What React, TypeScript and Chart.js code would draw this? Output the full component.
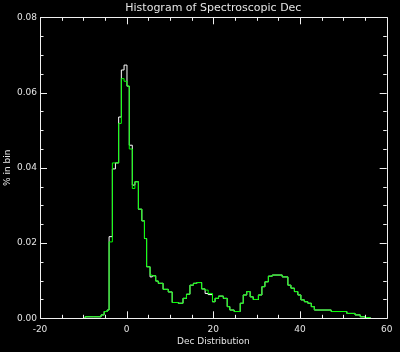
import React, { useEffect, useRef } from "react";
import { Chart, registerables } from "chart.js";
Chart.register(...registerables);

// Histogram bin edges (Dec, degrees) shared by both series
const binEdges = [
  -9.6, -7.7, -5.9, -5.2, -4.5, -4.06, -3.3, -2.6, -1.85, -1.23, -0.6, 0.07, 0.6, 1.3, 1.9, 2.7, 3.5,
  4.1, 4.6, 5.4, 5.9, 6.7, 7.3, 8.4, 9.6, 10.5, 11.9, 13.0, 13.8, 14.6, 15.4, 16.2, 17.3, 18.1, 18.8,
  19.8, 20.4, 21.2, 22.3, 23.2, 23.8, 24.8, 26.2, 26.9, 27.7, 28.5, 29.2, 30.4, 31.2, 31.9, 32.7, 33.6,
  35.9, 37.2, 37.9, 38.7, 39.5, 40.2, 41.0, 41.8, 42.6, 43.3, 47.2, 50.8, 52.7, 53.9, 55.0, 56.2,
];

// Fraction in bin, white histogram
const whitePct = [
  0.0004, 0.0004, 0.0009, 0.0018, 0.0022, 0.0217, 0.0397, 0.0413, 0.0535, 0.066, 0.0673, 0.0617, 0.046,
  0.0354, 0.0363, 0.029, 0.0259, 0.0212, 0.0137, 0.011, 0.0113, 0.0099, 0.0093, 0.0077, 0.007, 0.0042,
  0.004, 0.0053, 0.0064, 0.0088, 0.0093, 0.0095, 0.0078, 0.0066, 0.0063, 0.0044, 0.0053, 0.0059, 0.0053,
  0.0031, 0.0022, 0.0018, 0.004, 0.0062, 0.0071, 0.0057, 0.005, 0.0062, 0.0084, 0.0097, 0.0112, 0.0115,
  0.011, 0.0088, 0.008, 0.0071, 0.0062, 0.0049, 0.0044, 0.004, 0.0031, 0.0022, 0.0018, 0.0013, 0.0009,
  0.0004, 0.0002,
];

// Fraction in bin, green histogram
const greenPct = [
  0.0004, 0.0004, 0.0009, 0.0018, 0.0022, 0.0203, 0.0413, 0.0413, 0.0518, 0.0637, 0.063, 0.0617, 0.045,
  0.0345, 0.0363, 0.029, 0.0259, 0.0212, 0.0137, 0.0115, 0.0113, 0.0099, 0.0093, 0.0077, 0.007, 0.0042,
  0.004, 0.0053, 0.0064, 0.0088, 0.0093, 0.0095, 0.0078, 0.0075, 0.0066, 0.0044, 0.0053, 0.0059, 0.0053,
  0.0031, 0.0022, 0.0018, 0.004, 0.0062, 0.0071, 0.0057, 0.005, 0.0062, 0.0084, 0.0097, 0.0112, 0.0115,
  0.011, 0.0088, 0.008, 0.0071, 0.0062, 0.0049, 0.0044, 0.004, 0.0031, 0.0022, 0.0018, 0.0013, 0.0009,
  0.0004, 0.0002,
];

const xTickMarks = [-20, -15, -10, -5, 0, 5, 10, 15, 20, 25, 30, 35, 40, 45, 50, 55, 60];
const xMajorTicks = [-20, 0, 20, 40, 60];
const yTickMarks = [
  0, 0.005, 0.01, 0.015, 0.02, 0.025, 0.03, 0.035, 0.04, 0.045, 0.05, 0.055, 0.06, 0.065, 0.07, 0.075, 0.08,
];
const yMajorTicks = [0, 0.02, 0.04, 0.06, 0.08];

const TEXT = "#e4e4e4";
const AXIS = "#f0f0f0";
const FONT = "DejaVu Sans";

function toSteps(edges: number[], vals: number[]) {
  const pts: { x: number; y: number }[] = [{ x: edges[0], y: 0 }];
  vals.forEach((v, i) => pts.push({ x: edges[i], y: v }));
  pts.push({ x: edges[edges.length - 1], y: 0 });
  return pts;
}

const framePlugin = {
  id: "frameTicks",
  beforeDraw(chart: any) {
    const ctx = chart.ctx;
    ctx.save();
    ctx.fillStyle = "#000";
    ctx.fillRect(0, 0, chart.width, chart.height);
    ctx.restore();
  },
  afterDraw(chart: any) {
    const { ctx, chartArea } = chart;
    const { left, right, top, bottom } = chartArea;
    const xs = chart.scales.x;
    const ys = chart.scales.y;
    ctx.save();
    ctx.strokeStyle = AXIS;
    ctx.lineWidth = 1;
    ctx.beginPath();
    ctx.rect(Math.round(left) + 0.5, Math.round(top) + 0.5, Math.round(right - left), Math.round(bottom - top));
    ctx.stroke();
    ctx.beginPath();
    xTickMarks.forEach((v) => {
      const len = xMajorTicks.includes(v) ? 7 : 3.5;
      const px = Math.round(xs.getPixelForValue(v)) + 0.5;
      ctx.moveTo(px, bottom);
      ctx.lineTo(px, bottom - len);
      ctx.moveTo(px, top);
      ctx.lineTo(px, top + len);
    });
    yTickMarks.forEach((v) => {
      const len = yMajorTicks.some((m) => Math.abs(m - v) < 1e-9) ? 7 : 3.5;
      const py = Math.round(ys.getPixelForValue(v)) + 0.5;
      ctx.moveTo(left, py);
      ctx.lineTo(left + len, py);
      ctx.moveTo(right, py);
      ctx.lineTo(right - len, py);
    });
    ctx.stroke();
    ctx.restore();
  },
};

export default function App() {
  const ref = useRef<HTMLCanvasElement | null>(null);
  useEffect(() => {
    if (!ref.current) return;
    const chart = new Chart(ref.current, {
      type: "line",
      data: {
        datasets: [
          {
            label: "green",
            data: toSteps(binEdges, greenPct),
            borderColor: "#00ff00",
            borderWidth: 1,
            pointRadius: 0,
            stepped: "before",
            fill: false,
          },
          {
            label: "white",
            data: toSteps(binEdges, whitePct),
            borderColor: "#ffffff",
            borderWidth: 1,
            pointRadius: 0,
            stepped: "before",
            fill: false,
          },
        ],
      },
      options: {
        animation: false,
        responsive: false,
        maintainAspectRatio: false,
        devicePixelRatio: 1,
        layout: { padding: { top: 0, right: 13.3, left: 0, bottom: 0 } },
        plugins: {
          legend: { display: false },
          tooltip: { enabled: false },
          title: {
            display: true,
            text: "Histogram of Spectroscopic Dec",
            color: TEXT,
            font: { family: FONT, size: 11, weight: "normal" },
            padding: { top: 1.5, bottom: 2.6 },
            fullSize: false,
          },
        },
        scales: {
          x: {
            type: "linear",
            min: -20,
            max: 60,
            ticks: {
              stepSize: 20,
              color: TEXT,
              font: { family: FONT, size: 9 },
              padding: 6,
              maxRotation: 0,
              autoSkip: false,
            },
            grid: { display: false, drawTicks: false },
            border: { display: false },
            title: {
              display: true,
              text: "Dec Distribution",
              color: TEXT,
              font: { family: FONT, size: 9 },
              padding: { top: 0, bottom: 5 },
            },
            afterFit: (s: any) => {
              s.height = 33.7;
            },
          },
          y: {
            type: "linear",
            min: 0,
            max: 0.08,
            ticks: {
              stepSize: 0.02,
              color: TEXT,
              font: { family: FONT, size: 9 },
              padding: 3,
              callback: (v: any) => Number(v).toFixed(2),
            },
            grid: { display: false, drawTicks: false },
            border: { display: false },
            title: {
              display: true,
              text: "% in bin",
              color: TEXT,
              font: { family: FONT, size: 9 },
              padding: { top: 2.6, bottom: 0 },
            },
            afterFit: (s: any) => {
              s.width = 40;
            },
          },
        },
      },
      plugins: [framePlugin],
    } as any);
    return () => chart.destroy();
  }, []);
  return (
    <div style={{ position: "absolute", left: 0, top: 0, width: 400, height: 352, background: "#000" }}>
      <canvas ref={ref} width={400} height={352} style={{ display: "block" }} />
    </div>
  );
}
